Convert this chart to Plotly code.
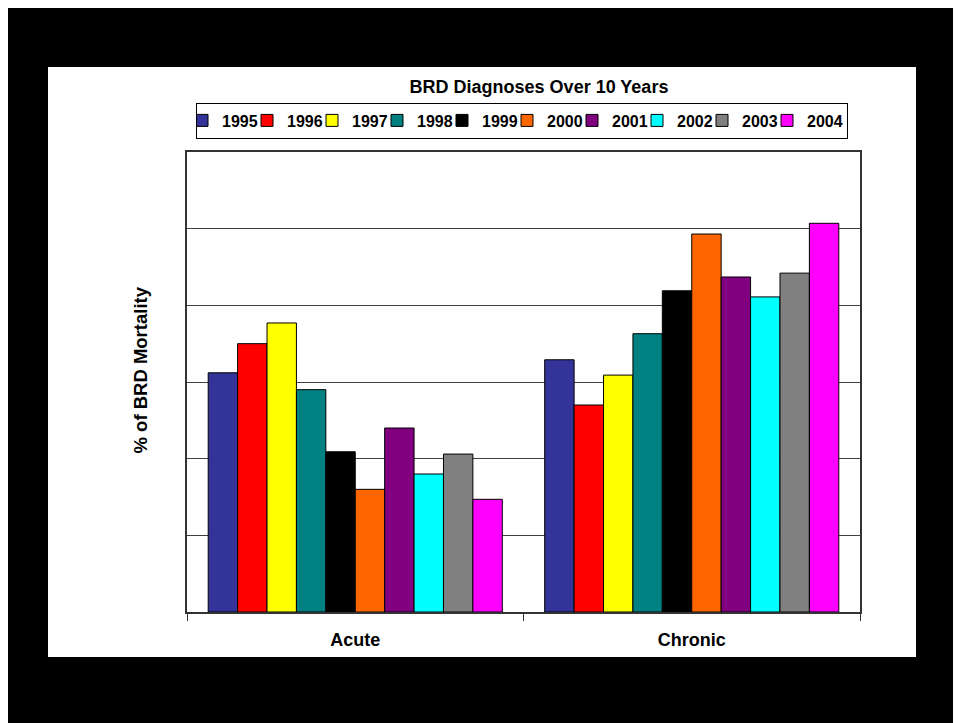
import plotly.graph_objects as go

categories = ["Acute", "Chronic"]
years = ["1995", "1996", "1997", "1998", "1999", "2000", "2001", "2002", "2003", "2004"]
acute = [15.6, 17.5, 18.85, 14.5, 10.45, 8.0, 12.0, 9.0, 10.3, 7.35]
chronic = [16.45, 13.5, 15.45, 18.15, 20.95, 24.65, 21.85, 20.55, 22.1, 25.35]
colors = ["#333399", "#FF0000", "#FFFF00", "#008080", "#000000",
          "#FF6600", "#800080", "#00FFFF", "#808080", "#FF00FF"]

font_family = "Arial, Liberation Sans, sans-serif"

# page offset correction (browser body margin)
OFF = 8
PL, PT, PW, PH = 187, 152, 673, 460  # target plot area in reference pixels

fig = go.Figure()
for i, y in enumerate(years):
    fig.add_trace(go.Bar(
        name=y,
        x=categories,
        y=[acute[i], chronic[i]],
        marker=dict(color=colors[i], line=dict(color="#000000", width=1)),
    ))

def px_x(x):
    return (x - PL) / PW

def px_y(y):
    return (PT + PH - y) / PH

fig.update_layout(
    width=961, height=723,
    barmode="group",
    bargap=0.126,
    bargroupgap=0,
    paper_bgcolor="#000000",
    plot_bgcolor="#FFFFFF",
    margin=dict(l=PL - OFF, r=961 - (PL - OFF) - PW, t=PT - OFF,
                b=723 - (PT - OFF) - PH, autoexpand=False),
    font=dict(family=font_family, color="#000000"),
    title=dict(
        text="<b>BRD Diagnoses Over 10 Years</b>",
        x=(539 - OFF) / 961, xref="container", xanchor="center",
        y=1 - (87 - OFF) / 723, yref="container", yanchor="middle",
        font=dict(size=18, color="#000000", family=font_family),
    ),
    legend=dict(
        orientation="h",
        xref="container",
        x=(522 - OFF) / 961, xanchor="center",
        y=px_y(120.5), yanchor="middle",
        bgcolor="#FFFFFF",
        bordercolor="#000000", borderwidth=1,
        font=dict(size=16, family=font_family, color="#000000", weight="bold"),
        itemwidth=30,
        indentation=-15,
        entrywidth=35,
        entrywidthmode="pixels",
        tracegroupgap=0,
        traceorder="normal",
    ),
    xaxis=dict(
        showline=True, linecolor="#333333", linewidth=1.5, mirror=True,
        ticks="outside", tickson="boundaries", ticklen=7, tickcolor="#333333",
        tickfont=dict(size=18, family=font_family, color="#000000", weight="bold"),
        ticklabelstandoff=11,
        showgrid=False,
    ),
    yaxis=dict(
        range=[0, 30], dtick=5,
        showline=True, linecolor="#333333", linewidth=1.5, mirror=True,
        showgrid=True, gridcolor="#404040", gridwidth=1,
        showticklabels=False, ticks="",
        zeroline=False,
    ),
    annotations=[dict(
        text="<b>% of BRD Mortality</b>",
        xref="paper", yref="paper",
        x=px_x(139.5), y=px_y(370),
        xanchor="center", yanchor="middle",
        textangle=-90, showarrow=False,
        font=dict(size=18.5, family=font_family, color="#000000"),
    )],
    shapes=[dict(
        type="rect", xref="paper", yref="paper", layer="below",
        x0=px_x(48), x1=px_x(916),
        y0=px_y(657), y1=px_y(67),
        fillcolor="#FFFFFF", line=dict(width=0),
    )],
)

fig.write_html("out.html")
